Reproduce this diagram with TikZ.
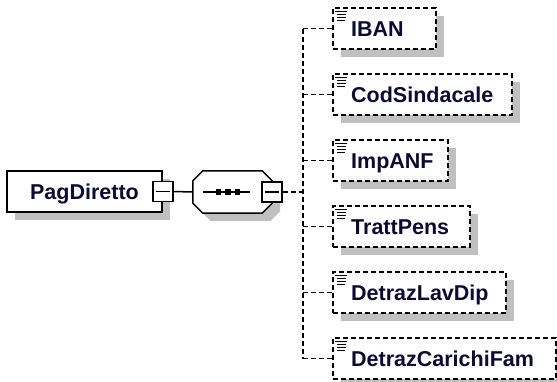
\documentclass[tikz,border=0pt]{standalone}
\usepackage{fontspec}
\setmainfont{Liberation Sans}
\usetikzlibrary{shadows,positioning,calc}
\definecolor{elemtext}{RGB}{10,10,50}
\definecolor{shadowgray}{RGB}{192,192,192}

% octagon outline round the sequence node
\newcommand{\seqoutline}[1]{%
  ($(#1.north west)+(10,0)$) -- ($(#1.north east)+(-10,0)$) --
  ($(#1.north east)+(0,10)$) -- ($(#1.south east)+(0,-10)$) --
  ($(#1.south east)+(-10,0)$) -- ($(#1.south west)+(10,0)$) --
  ($(#1.south west)+(0,-10)$) -- ($(#1.north west)+(0,10)$) -- cycle}

\begin{document}
\begin{tikzpicture}[x=1pt,y=-1pt,
  elem/.style={draw,line width=1.5pt,fill=white,inner sep=0pt,minimum height=41pt,
               drop shadow={shadow xshift=8pt,shadow yshift=-8pt,fill=shadowgray,opacity=1}},
  child/.style={elem,dash pattern=on 5pt off 3pt,anchor=west},
  lbl/.style={font=\fontsize{21.5pt}{21.5pt}\selectfont\bfseries,text=elemtext,
              inner sep=0pt,text height=15.5pt,text depth=0pt},
  minus/.style={draw,line width=1.5pt,fill=white,minimum size=20pt,inner sep=0pt,
                path picture={\draw[line width=1.5pt]
                  ([xshift=3pt]path picture bounding box.west) --
                  ([xshift=-3pt]path picture bounding box.east);}},
  seqarea/.style={minimum width=79pt,minimum height=42pt,inner sep=0pt},
  dot/.style={fill=black,minimum size=5.5pt,inner sep=0pt},
  conn/.style={line width=1.5pt},
  dconn/.style={line width=1.5pt,dash pattern=on 5pt off 3pt},
  icon/.style={line width=1.3pt,line cap=butt}
]
  \useasboundingbox (0,0) rectangle (557,381);

  % Root element
  \node[elem,minimum width=155pt,lbl] (pagdiretto) at (84.5,191.5) {PagDiretto};
  \node[minus] (rootminus) at (pagdiretto.east) {};

  % Sequence compositor
  \node[seqarea] (seq) at (232.5,192) {};
  \begin{scope}[transform canvas={shift={(8pt,-8pt)}}]
    \fill[shadowgray] \seqoutline{seq};
  \end{scope}
  \draw[line width=1.5pt,fill=white] \seqoutline{seq};
  \draw[conn] (203,192) -- (250,192);
  \foreach \x [count=\i] in {218.5,228,237.5}
    \node[dot] (seqdot\i) at (\x,192) {};
  \node[minus] (seqminus) at (seq.east) {};
  \draw[conn] (rootminus.east) -- (seq.west);

  % Children
  \coordinate (bus) at (303,192);
  \foreach \n/\y/\w/\t in {iban/28.5/103/IBAN,
                           codsind/94.5/179/CodSindacale,
                           impanf/160.5/115/ImpANF,
                           trattpens/226.5/137/TrattPens,
                           detrazlav/292.5/173/DetrazLavDip,
                           detrazcar/358.5/223/DetrazCarichiFam}
  {
    \node[child,minimum width=\w pt] (\n) at (332,\y) {};
    \node[lbl,anchor=west] (\n-txt) at ([xshift=19pt]\n.west) {\t};
    \draw[icon] ($(\n.north west)+(3,4)$) -- +(12,0)
                ($(\n.north west)+(5,7.5)$) -- +(9,0)
                ($(\n.north west)+(5,10.5)$) -- +(9,0)
                ($(\n.north west)+(5,13.5)$) -- +(8,0);
  }

  % Connections
  \draw[dconn] (seqminus.east) -- (bus);
  \draw[dconn] (bus |- iban.west) -- (bus |- detrazcar.west);
  \foreach \n in {iban,codsind,impanf,trattpens,detrazlav,detrazcar}
    \draw[dconn] (bus |- \n.west) -- (\n.west);
\end{tikzpicture}
\end{document}
